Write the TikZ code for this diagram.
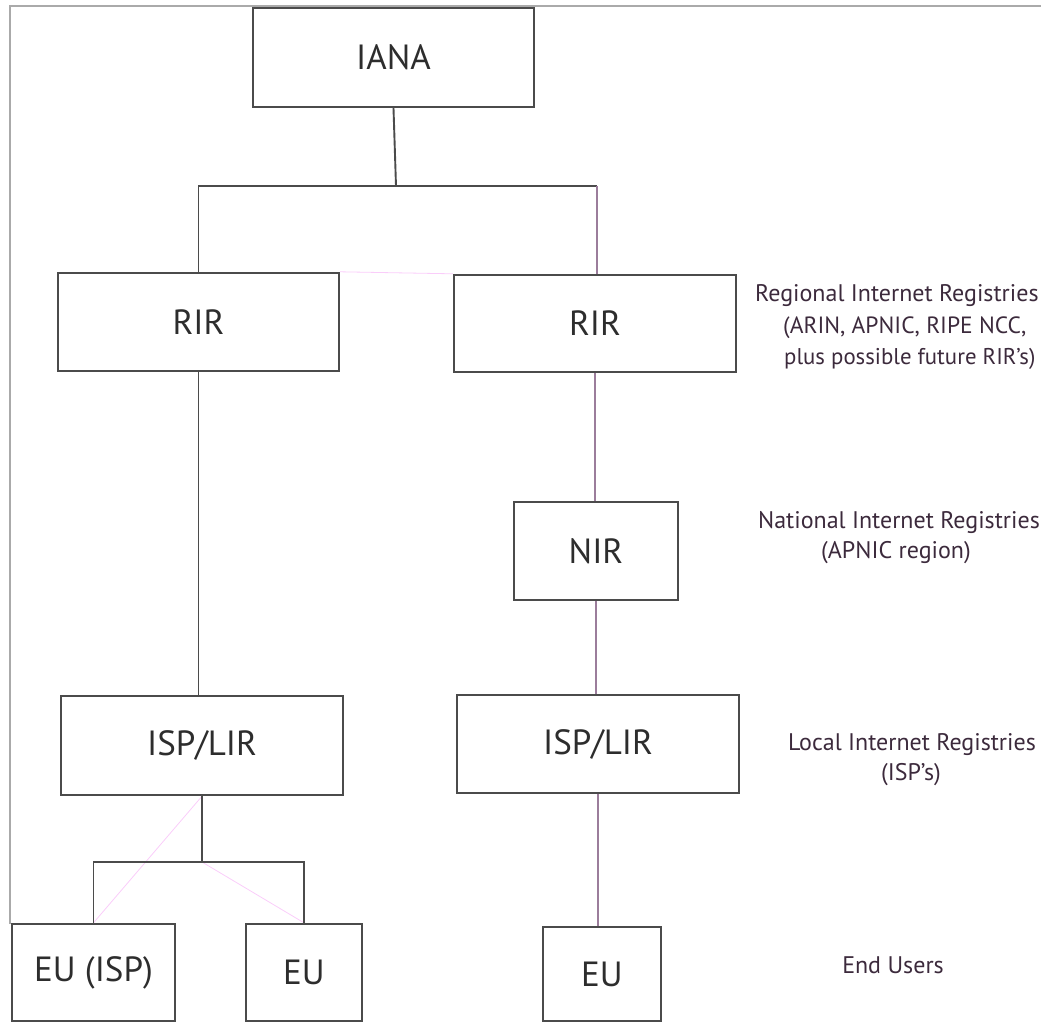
\documentclass[tikz,border=0pt]{standalone}
\usepackage{fontspec,
			tikz
			}
\setmainfont{PT Sans}
\usetikzlibrary{positioning}
\definecolor{boxgray}{RGB}{75,75,75}
\definecolor{linemauve}{RGB}{155,125,155}
\definecolor{textgray}{RGB}{45,45,45}
\definecolor{labelplum}{RGB}{60,42,60}
\definecolor{ghostpink}{RGB}{250,205,250}
\definecolor{framegray}{RGB}{170,170,170}

\begin{document}
\begin{tikzpicture}[x = 1pt, y = -1pt,
	regbox/.style = {draw = boxgray, line width = 2.4pt, inner sep = 0pt, text = textgray,
		font = \fontsize{35}{35}\selectfont},
	tier/.style = {text = labelplum, inner sep = 0pt, font = \fontsize{24}{32}\selectfont},
	link/.style = {draw = boxgray, line width = 1.9pt},
	mlink/.style = {draw = linemauve, line width = 2.2pt},
	ghost/.style = {draw = ghostpink, line width = 0.8pt}]
	\useasboundingbox (0,0) rectangle (1041,1022);
	\draw[framegray, line width = 1.2pt] (10,924)--(10,6)--(1041,6);
	\node[regbox, minimum width = 281, minimum height = 99] (iana) at (393.5,57.5) {IANA};
	\node[regbox, minimum width = 281, minimum height = 98] (rirL) at (198.5,322) {RIR};
	\node[regbox, minimum width = 282, minimum height = 97] (rirR) at (595,323.5) {RIR};
	\node[regbox, minimum width = 164, minimum height = 98] (nir) at (596,551) {NIR};
	\node[regbox, minimum width = 282, minimum height = 99] (ispL) at (202,745.5) {ISP/LIR};
	\node[regbox, minimum width = 282, minimum height = 98] (ispR) at (598,744) {ISP/LIR};
	\node[regbox, minimum width = 163, minimum height = 97] (euIsp) at (93.5,972.5) {EU (ISP)};
	\node[regbox, minimum width = 116, minimum height = 97] (euL) at (304,972.5) {EU};
	\node[regbox, minimum width = 118, minimum height = 94] (euR) at (602,974) {EU};
	\coordinate (split) at (396,186);
	\coordinate (splitR) at (597,186);
	\coordinate (lowSplit) at (202,862);
	\draw[ghost] (rirL.north east)--(rirR.north west);
	\draw[ghost] (ispL.south)--(euIsp.north);
	\draw[ghost] (lowSplit)--(euL.north);
	\draw[link] (iana.south)--(split);
	\draw[link] (split)--(splitR);
	\draw[link] (split)-|(rirL.north);
	\draw[mlink] (splitR)--(splitR |- rirR.north);
	\draw[link] (rirL.south)--(rirL.south |- ispL.north);
	\draw[mlink] (rirR.south)--(rirR.south |- nir.north);
	\draw[mlink] (nir.south)--(nir.south |- ispR.north);
	\draw[link] (ispL.south)--(lowSplit);
	\draw[link] (lowSplit)-|(euIsp.north);
	\draw[link] (lowSplit)-|(euL.north);
	\draw[mlink] (ispR.south)--(ispR.south |- euR.north);
	\node[tier, anchor = base west] (reg1) at (755,301) {Regional Internet Registries};
	\node[tier, anchor = base west, font = \fontsize{23.5}{32}\selectfont] (reg2) at (783,333) {(ARIN, APNIC, RIPE NCC,};
	\node[tier, anchor = base west, font = \fontsize{22.8}{32}\selectfont] (reg3) at (784,364) {plus possible future RIR's)};
	\node[tier, anchor = base] (nat1) at (899,528) {National Internet Registries};
	\node[tier, anchor = base] (nat2) at (896,558) {(APNIC region)};
	\node[tier, anchor = base] (loc1) at (912,750) {Local Internet Registries};
	\node[tier, anchor = base] (loc2) at (911,780) {(ISP's)};
	\node[tier, anchor = base] (endU) at (893,973) {End Users};
\end{tikzpicture}
\end{document}
